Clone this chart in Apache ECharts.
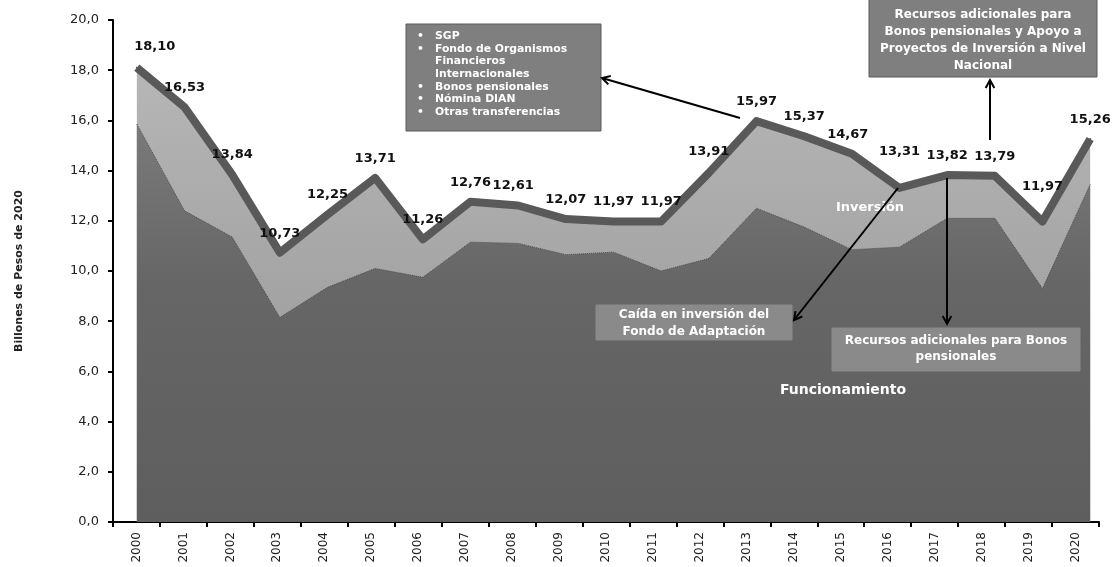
<!DOCTYPE html>
<html><head><meta charset="utf-8">
<script src="https://cdn.jsdelivr.net/npm/echarts@6/dist/echarts.min.js"></script>
<style>html,body{margin:0;padding:0;background:#fff}#c{width:1116px;height:567px}</style>
</head><body><div id="c"></div>
<script>
const years = ['2000','2001','2002','2003','2004','2005','2006','2007','2008','2009','2010','2011','2012','2013','2014','2015','2016','2017','2018','2019','2020'];
const total = [18.10,16.53,13.84,10.73,12.25,13.71,11.26,12.76,12.61,12.07,11.97,11.97,13.91,15.97,15.37,14.67,13.31,13.82,13.79,11.97,15.26];
const funcionamiento = [15.85,12.4,11.35,8.15,9.35,10.1,9.75,11.15,11.1,10.65,10.75,10.0,10.5,12.5,11.75,10.85,10.95,12.1,12.1,9.3,13.45];
const yTicks = [0,2,4,6,8,10,12,14,16,18,20];

const FONT = 'DejaVu Sans';
const fmt = v => v.toFixed(2).replace('.', ',');

// manual label nudges (as in the original chart), keyed by year
const labelNudge = {'2000':[18,-2], '2008':[-5,0], '2012':[0,-2], '2015':[-4,0], '2016':[0,-17], '2019':[0,-15]};

const chart = echarts.init(document.getElementById('c'), null, {renderer:'canvas'});

function box(x, y, w, h, fill, stroke) {
  return {type:'rect', shape:{x:x, y:y, width:w, height:h}, style:{fill:fill, stroke:stroke, lineWidth:1}, z:100};
}
function txt(x, y, text, align, size, lh) {
  return {type:'text', x:x, y:y, style:{text:text, fill:'#fff', font:'bold '+size+'px '+FONT, align:align, verticalAlign:'top', lineHeight:lh}, z:101};
}
function arrow(x1, y1, x2, y2) {
  const a = Math.atan2(y2 - y1, x2 - x1), L = 9, s = 0.5;
  return [
    {type:'line', shape:{x1:x1, y1:y1, x2:x2, y2:y2}, style:{stroke:'#000', lineWidth:2}, z:110},
    {type:'polyline', shape:{points:[[x2 - L*Math.cos(a - s), y2 - L*Math.sin(a - s)], [x2, y2], [x2 - L*Math.cos(a + s), y2 - L*Math.sin(a + s)]]}, style:{stroke:'#000', lineWidth:2, fill:null}, z:110}
  ];
}

const graphics = [].concat(
  [box(406, 24, 195, 107, '#7f7f7f', '#5a5a5a'),
   txt(417, 30, '•\n•\n\n\n•\n•\n•', 'left', 10.8, 12.6),
   txt(435, 30, 'SGP\nFondo de Organismos\nFinancieros\nInternacionales\nBonos pensionales\nNómina DIAN\nOtras transferencias', 'left', 10.8, 12.6),
   box(869, -2, 228, 79, '#7f7f7f', '#5a5a5a'),
   txt(983, 6, 'Recursos adicionales para\nBonos pensionales y Apoyo a\nProyectos de Inversión a Nivel\nNacional', 'center', 12, 17),
   box(596, 305, 196, 35, '#8a8a8a', '#8a8a8a'),
   txt(694, 306, 'Caída en inversión del\nFondo de Adaptación', 'center', 12, 17),
   box(832, 328, 248, 43, '#8a8a8a', '#8a8a8a'),
   txt(956, 333, 'Recursos adicionales para Bonos\npensionales', 'center', 12, 16),
   txt(870, 200, 'Inversión', 'center', 13, 16),
   txt(843, 381, 'Funcionamiento', 'center', 14, 18)
  ],
  arrow(740, 118, 602, 78),
  arrow(898, 188, 794, 320),
  arrow(947, 178, 947, 324),
  arrow(990, 140, 990, 80)
);

chart.setOption({
  animation:false,
  backgroundColor:'#fff',
  grid:[
    {left:113, right:17, top:20, bottom:45, containLabel:false},
    {left:113, right:2, top:20, bottom:45, containLabel:false}
  ],
  xAxis:[
    {type:'category', gridIndex:0, data:years, boundaryGap:true,
     axisLine:{lineStyle:{color:'#000', width:2}},
     axisTick:{show:true, alignWithLabel:false, length:5, lineStyle:{color:'#000', width:2}},
     axisLabel:{rotate:90, color:'#222', fontFamily:FONT, fontSize:12, margin:10}},
    {type:'category', gridIndex:1, data:years, boundaryGap:true, show:false}
  ],
  yAxis:[
    {type:'value', gridIndex:0, min:0, max:20, interval:2,
     name:'Billones de Pesos de 2020', nameLocation:'middle', nameGap:88,
     nameTextStyle:{fontFamily:FONT, fontWeight:'bold', fontSize:11, color:'#222'},
     axisLine:{show:true, lineStyle:{color:'#000', width:2}},
     axisTick:{show:true, length:5, lineStyle:{color:'#000', width:2}},
     splitLine:{show:false},
     axisLabel:{color:'#222', fontFamily:FONT, fontSize:13, margin:14, formatter:v => yTicks.includes(v) ? v.toFixed(1).replace('.', ',') : ''}},
    {type:'value', gridIndex:1, min:0, max:20, interval:2, show:false, splitLine:{show:false}}
  ],
  series:[
    {name:'Inversión', type:'line', xAxisIndex:1, yAxisIndex:1, data:total, symbol:'none', z:1,
     lineStyle:{width:0},
     areaStyle:{opacity:1, color:new echarts.graphic.LinearGradient(0,0,0,1,[{offset:0,color:'#b6b6b6'},{offset:0.5,color:'#a4a4a4'},{offset:1,color:'#9a9a9a'}])}},
    {name:'Funcionamiento', type:'line', xAxisIndex:1, yAxisIndex:1, data:funcionamiento, symbol:'none', z:2,
     lineStyle:{width:1, color:'#4a4a4a', type:'dotted'},
     areaStyle:{opacity:1, color:new echarts.graphic.LinearGradient(0,0,0,1,[{offset:0,color:'#7a7a7a'},{offset:0.4,color:'#666666'},{offset:1,color:'#5e5e5e'}])}},
    {name:'Total', type:'line', xAxisIndex:1, yAxisIndex:1, data:total, symbol:'circle', symbolSize:2, showSymbol:true, z:5,
     itemStyle:{color:'#595959'},
     lineStyle:{width:8, color:'#595959', join:'round'},
     labelLayout:function (p) {
       const n = labelNudge[years[p.dataIndex]];
       return n ? {dx:n[0], dy:n[1], hideOverlap:false} : {hideOverlap:false};
     },
     label:{show:true, position:'top', distance:12, formatter:p => fmt(p.value), fontFamily:FONT, fontWeight:'bold', fontSize:13, color:'#111'}}
  ],
  graphic:graphics
});
</script></body></html>
